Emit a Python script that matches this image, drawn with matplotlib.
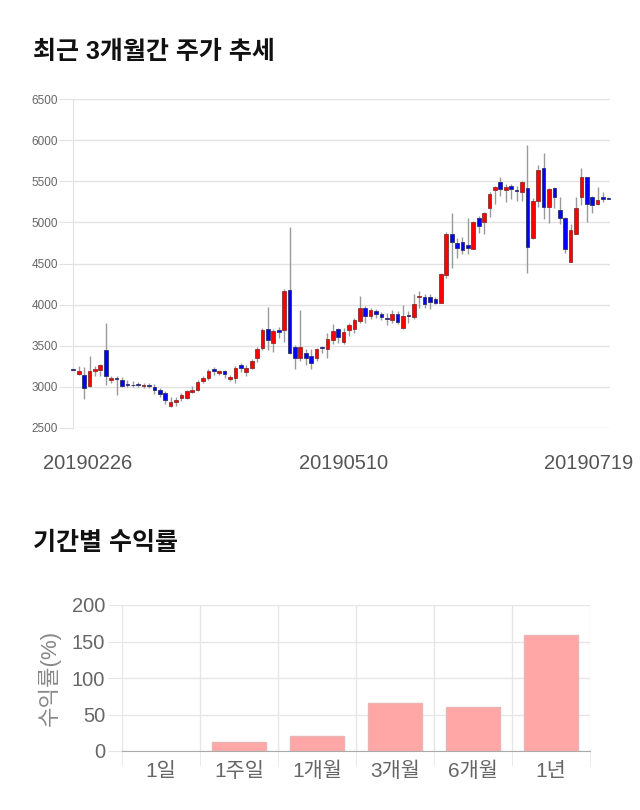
import matplotlib
matplotlib.use("Agg")
import matplotlib.pyplot as plt
import matplotlib.transforms as mtransforms
import numpy as np

plt.rcParams['font.family'] = ['Liberation Sans', 'Noto Sans CJK KR', 'DejaVu Sans']

# ---------------- data ----------------
opens = [3210, 3160, 3145, 3005, 3190, 3205, 3445, 3080, 3100, 3075,
         3037, 3020, 3035, 3010, 3015, 3000, 2955, 2925, 2760, 2810,
         2862, 2865, 2940, 2960, 3065, 3100, 3215, 3165, 3195, 3098,
         3100, 3260, 3180, 3232, 3355, 3472, 3707, 3537, 3687, 3690,
         4180, 3488, 3355, 3415, 3374, 3355, 3480, 3463, 3570, 3700,
         3545, 3687, 3707, 3801, 3955, 3862, 3927, 3882, 3830, 3813,
         3882, 3711, 3870, 3854, 4098, 4098, 4098, 4065, 4024, 4358,
         4858, 4744, 4764, 4724, 4682, 5057, 5000, 5172, 5396, 5490,
         5396, 5449, 5390, 5367, 5417, 4805, 5266, 5661, 5184, 5418,
         5157, 5059, 4521, 4864, 5304, 5549, 5304, 5223, 5304, 5295]
highs = [3240, 3250, 3240, 3370, 3250, 3270, 3780, 3130, 3130, 3115,
         3075, 3065, 3055, 3040, 3040, 3035, 2985, 2950, 2870, 2870,
         2925, 2965, 3005, 3075, 3125, 3220, 3235, 3205, 3205, 3145,
         3250, 3285, 3260, 3340, 3488, 3715, 3975, 3707, 3730, 4187,
         4940, 3512, 3935, 3455, 3455, 3475, 3496, 3659, 3760, 3720,
         3720, 3780, 3841, 4105, 3984, 3963, 3951, 3910, 3900, 3935,
         3923, 3992, 3923, 4134, 4167, 4126, 4126, 4098, 4390, 4878,
         5114, 4805, 4817, 5049, 5020, 5082, 5131, 5367, 5449, 5551,
         5470, 5470, 5449, 5510, 5947, 5294, 5694, 5849, 5417, 5435,
         5304, 5070, 4978, 5304, 5663, 5555, 5324, 5435, 5365, 5310]
lows = [3180, 3140, 2850, 3000, 3130, 3130, 3020, 3045, 2895, 2990,
        2990, 2990, 2995, 2985, 2985, 2910, 2880, 2790, 2750, 2760,
        2820, 2855, 2925, 2950, 3045, 3075, 3145, 3145, 3105, 3065,
        3050, 3180, 3130, 3210, 3300, 3447, 3447, 3423, 3598, 3545,
        3400, 3210, 3313, 3260, 3210, 3313, 3415, 3354, 3516, 3537,
        3516, 3618, 3659, 3780, 3780, 3821, 3841, 3813, 3748, 3780,
        3760, 3699, 3780, 3829, 3963, 3963, 3943, 4004, 4016, 4329,
        4451, 4573, 4614, 4614, 4674, 4870, 4858, 5061, 5225, 5327,
        5253, 5286, 5265, 5265, 4388, 4797, 5184, 5041, 4992, 5182,
        4978, 4630, 4521, 4864, 5214, 5006, 5120, 5214, 5243, 5280]
closes = [3200, 3185, 2985, 3195, 3220, 3260, 3130, 3105, 3090, 3005,
          3022, 3015, 3020, 3025, 3010, 2955, 2910, 2835, 2810, 2835,
          2898, 2945, 2965, 3055, 3105, 3185, 3195, 3190, 3155, 3122,
          3228, 3230, 3232, 3313, 3455, 3687, 3570, 3683, 3660, 4163,
          3415, 3355, 3484, 3355, 3293, 3455, 3470, 3577, 3679, 3606,
          3667, 3748, 3809, 3955, 3862, 3931, 3882, 3850, 3821, 3882,
          3790, 3862, 3855, 4004, 4105, 4004, 4033, 4024, 4370, 4858,
          4756, 4683, 4667, 4683, 5000, 4960, 5110, 5347, 5429, 5408,
          5429, 5408, 5380, 5490, 4707, 5257, 5641, 5184, 5408, 5304,
          5051, 4672, 4908, 5174, 5549, 5223, 5214, 5276, 5284, 5290]
date_ticks = ["20190226", "20190510", "20190719"]
date_tick_index = [0, 50, 99]

periods = ["1일", "1주일", "1개월", "3개월", "6개월", "1년"]
returns = [0.0, 11.8, 21.0, 65.1, 59.7, 158.5]

# ---------------- figure ----------------
fig = plt.figure(figsize=(6.4, 8.1), dpi=100)
W, H = 640, 810

def ax_rect(l, t, r, b):
    return [l / W, 1 - b / H, (r - l) / W, (b - t) / H]

fig.text(33 / W, 1 - 52 / H, "최근 3개월간 주가 추세", fontsize=18, fontweight='bold',
         va='center', ha='left', color='#111111')
fig.text(33 / W, 1 - 543 / H, "기간별 수익률", fontsize=18, fontweight='bold',
         va='center', ha='left', color='#111111')

# ---------------- candlestick ----------------
ax = fig.add_axes(ax_rect(73.3, 99.3, 609.5, 427.7))
o = np.array(opens, float); h = np.array(highs, float)
l = np.array(lows, float); c = np.array(closes, float)
x = np.arange(len(o))
up = c >= o
ax.vlines(x, l, h, color='#9a9a9a', linewidth=1.0, zorder=2, clip_on=False)
bottoms = np.minimum(o, c)
heights = np.maximum(np.abs(c - o), 10)
ax.bar(x[up], heights[up], bottom=bottoms[up], width=0.68, color='#ff0000',
       edgecolor='#8a3030', linewidth=0.6, zorder=3, clip_on=False)
ax.bar(x[~up], heights[~up], bottom=bottoms[~up], width=0.68, color='#0000ff',
       edgecolor='#30306a', linewidth=0.6, zorder=3, clip_on=False)

ax.set_xlim(0, 99.2)
ax.set_ylim(2500, 6500)
ax.set_yticks(np.arange(2500, 6501, 500))
ax.grid(axis='y', color='#e2e2e2', linewidth=1.0, zorder=0)
ax.set_axisbelow(True)
for s in ['top', 'right', 'bottom']:
    ax.spines[s].set_visible(False)
ax.spines['left'].set_color('#e2e2e2')
ax.tick_params(axis='y', length=10, color='#e2e2e2', labelsize=8.5,
               labelcolor='#666666', pad=1)
ax.set_xticks(date_tick_index)
ax.set_xticklabels(date_ticks)
ax.tick_params(axis='x', length=0, labelsize=14.5, labelcolor='#555555', pad=19)
offsets = [14, 0, -20]
for lab, dx in zip(ax.get_xticklabels(), offsets):
    lab.set_transform(lab.get_transform() +
                      mtransforms.ScaledTranslation(dx / 100, 0, fig.dpi_scale_trans))

# ---------------- returns bar chart ----------------
bx = fig.add_axes(ax_rect(122, 605, 590, 751))
xi = np.arange(len(periods))
bx.bar(xi, returns, width=0.7, color='#ffa6a6', edgecolor='#e9b4b4',
       linewidth=[0 if v == 0 else 1.0 for v in returns], zorder=3)
bx.set_xlim(-0.5, len(periods) - 0.5)
bx.set_ylim(0, 200)
bx.set_yticks([0, 50, 100, 150, 200])
bx.set_xticks(xi)
bx.set_xticklabels(periods)
bx.set_xticks(np.arange(-0.5, len(periods), 1.0), minor=True)
bx.grid(axis='y', color='#e6e6e6', linewidth=1.0, zorder=0)
bx.grid(axis='x', which='minor', color='#e6e6e6', linewidth=1.0, zorder=0)
bx.set_axisbelow(True)
for s in ['top', 'right', 'left']:
    bx.spines[s].set_visible(False)
bx.spines['bottom'].set_color('#aaaaaa')
bx.spines['bottom'].set_zorder(4)
bx.tick_params(axis='x', which='major', length=0, labelsize=15,
               labelcolor='#666666', pad=8)
bx.tick_params(axis='x', which='minor', length=11, color='#e6e6e6')
bx.tick_params(axis='y', length=10, color='#e6e6e6', labelsize=14.5,
               labelcolor='#666666', pad=2)
bx.set_ylabel("수익률(%)", fontsize=16, color='#888888', labelpad=8)

fig.savefig("out.png", dpi=100)
